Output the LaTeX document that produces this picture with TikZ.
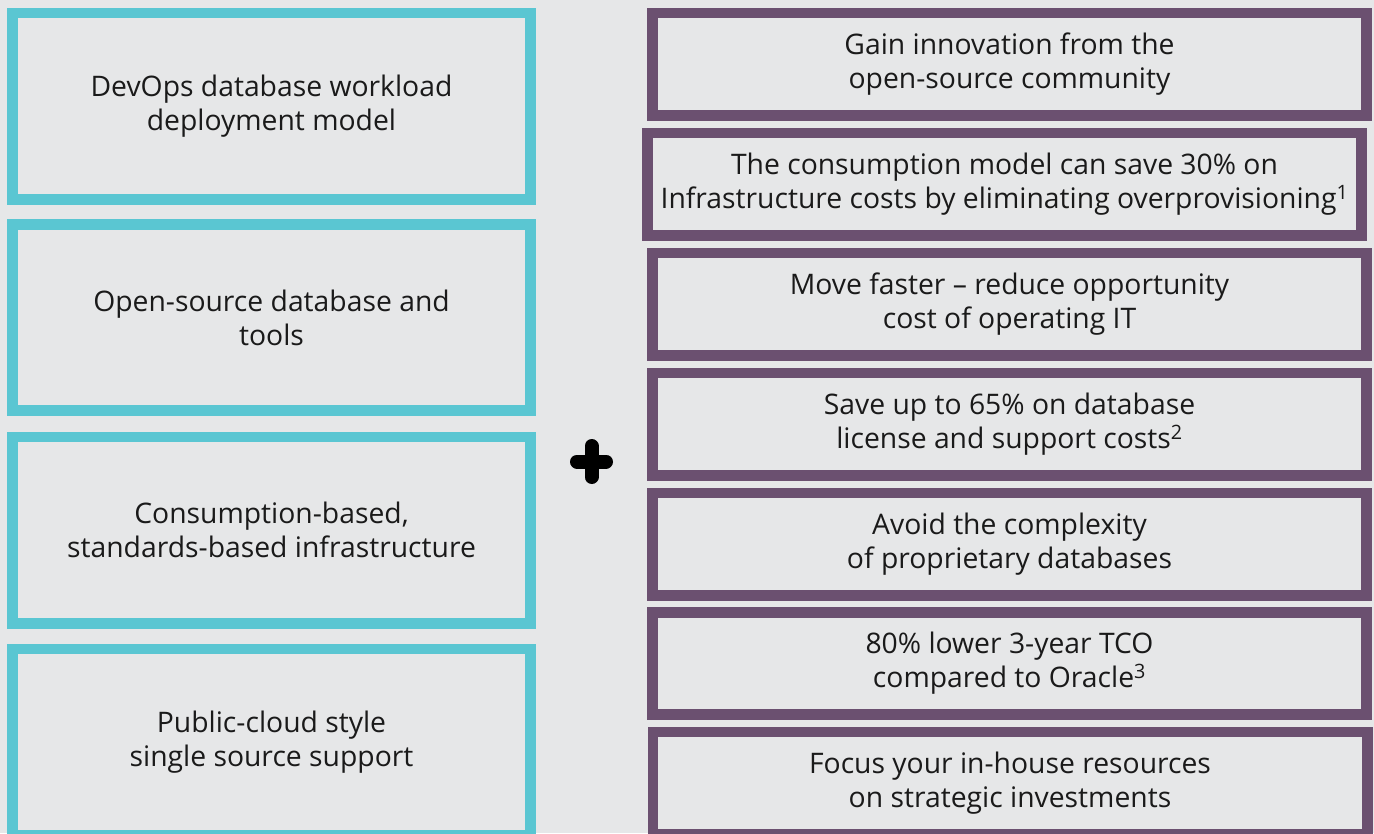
\documentclass[tikz,border=0pt]{standalone}
\usepackage{fontspec}
\setmainfont{Open Sans}
\definecolor{bg}{HTML}{E6E7E8}
\definecolor{teal}{HTML}{5AC6D2}
\definecolor{plum}{HTML}{6B5070}
\definecolor{ink}{HTML}{1A1A1A}
\begin{document}
\begin{tikzpicture}[x=1pt,y=-1pt,
  lbox/.style={draw=teal, line width=10.7pt, minimum width=518.3pt, minimum height=186.3pt, inner sep=0pt, align=center, font=\fontsize{28.3}{34}\selectfont, text=ink},
  rbox/.style={draw=plum, line width=10.7pt, minimum width=714.3pt, minimum height=102.3pt, inner sep=0pt, align=center, font=\fontsize{28.3}{34}\selectfont, text=ink},
  plusbar/.style={line width=14pt, line cap=round}]
\fill[bg] (0,0) rectangle (1374,833);
\useasboundingbox (0,0) rectangle (1374,833);
\node[lbox] (l1) at (271.5,106) {DevOps database workload\\deployment model};
\node[lbox] (l2) at (271.5,317.5) {Open-source database and\\tools};
\node[lbox] (l3) at (271.5,530) {Consumption-based,\\standards-based infrastructure};
\node[lbox] (l4) at (271.5,742) {Public-cloud style\\single source support};
\node[rbox] (r1) at (1009.5,64) {Gain innovation from the\\open-source community};
\node[rbox] (r2) at (1004.5,184) {The consumption model can save 30\% on\\Infrastructure costs by eliminating overprovisioning\textsuperscript{1}};
\node[rbox] (r3) at (1009.5,304) {Move faster -- reduce opportunity\\cost of operating IT};
\node[rbox] (r4) at (1009.5,424) {Save up to 65\% on database\\license and support costs\textsuperscript{2}};
\node[rbox] (r5) at (1009.5,544) {Avoid the complexity\\of proprietary databases};
\node[rbox] (r6) at (1009.5,663.5) {80\% lower 3-year TCO\\compared to Oracle\textsuperscript{3}};
\node[rbox] (r7) at (1010,783) {Focus your in-house resources\\on strategic investments};
\draw[plusbar] (577,461.5) -- (606,461.5);
\draw[plusbar] (591.5,446) -- (591.5,477);
\end{tikzpicture}
\end{document}
